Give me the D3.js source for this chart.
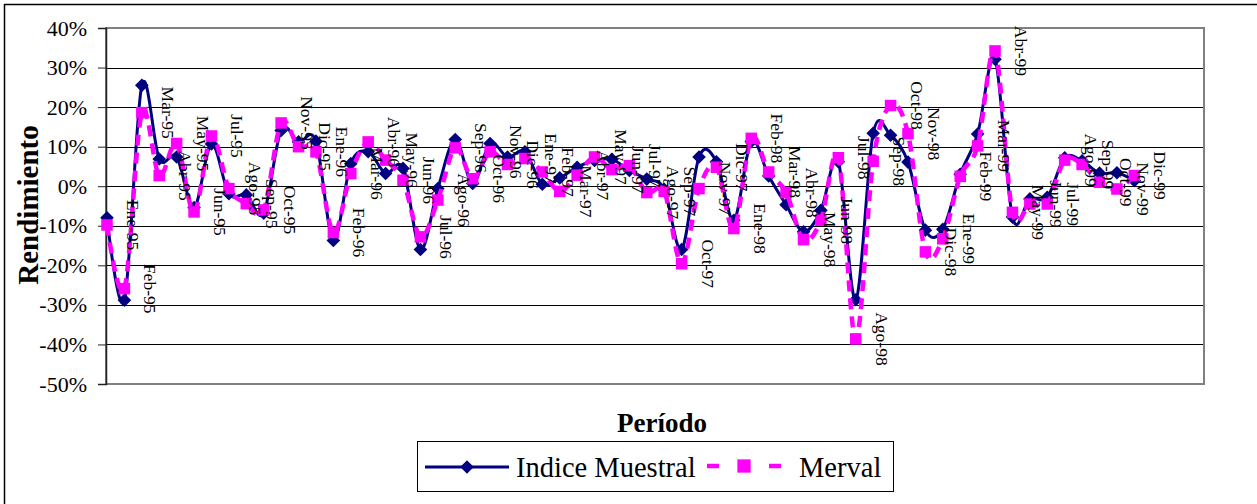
<!DOCTYPE html>
<html>
<head>
<meta charset="utf-8">
<script src="https://cdn.jsdelivr.net/npm/d3@7"></script>
<style>
  html, body { margin: 0; padding: 0; background: #fff; }
  svg { display: block; }
  svg text { font-family: "Liberation Serif", "Times New Roman", serif; }
</style>
</head>
<body>
<svg id="chart" width="1257" height="504"></svg>
<script>
// Monthly periods, Jan-1995 .. Dec-1999
const periods = [
  "Ene-95","Feb-95","Mar-95","Abr-95","May-95","Jun-95","Jul-95","Ago-95","Sep-95","Oct-95","Nov-95","Dic-95",
  "Ene-96","Feb-96","Mar-96","Abr-96","May-96","Jun-96","Jul-96","Ago-96","Sep-96","Oct-96","Nov-96","Dic-96",
  "Ene-97","Feb-97","Mar-97","Abr-97","May-97","Jun-97","Jul-97","Ago-97","Sep-97","Oct-97","Nov-97","Dic-97",
  "Ene-98","Feb-98","Mar-98","Abr-98","May-98","Jun-98","Jul-98","Ago-98","Sep-98","Oct-98","Nov-98","Dic-98",
  "Ene-99","Feb-99","Mar-99","Abr-99","May-99","Jun-99","Jul-99","Ago-99","Sep-99","Oct-99","Nov-99","Dic-99"
];

// Monthly return of the sample index (%)
const indiceMuestral = [
  -8.0, -28.8, 25.5, 6.9, 7.4, -5.4, 10.7, -1.9, -2.2, -6.8, 14.1, 11.2,
  11.4, -13.7, 5.7, 8.7, 3.2, 4.5, -16.0, -0.6, 11.8, 0.7, 10.8, 7.4,
  8.7, 0.5, 2.1, 4.8, 6.5, 6.8, 4.0, 1.8, -0.8, -16.0, 7.4, 6.2,
  -8.6, 11.3, 2.6, -4.7, -11.5, -6.1, 6.2, -28.7, 13.4, 12.9, 6.1, -11.1,
  -10.9, 3.0, 13.2, 32.1, -7.8, -3.2, -2.8, 7.2, 6.4, 3.3, 3.4, 1.4
];

// Monthly return of the Merval (%)
const merval = [
  -9.8, -25.9, 18.6, 2.7, 10.8, -6.5, 12.7, -0.6, -4.4, -6.0, 16.0, 10.0,
  8.7, -11.7, 3.2, 11.2, 6.6, 1.5, -12.8, -3.5, 9.7, 1.9, 8.7, 5.5,
  7.0, 3.6, -1.3, 2.8, 7.4, 4.2, 5.2, -1.6, -1.3, -19.6, -0.6, 4.8,
  -10.7, 12.1, 3.6, -1.6, -13.5, -8.6, 7.2, -38.6, 6.3, 20.4, 13.3, -16.6,
  -13.3, 2.5, 10.2, 34.2, -6.6, -4.5, -4.5, 6.6, 5.5, 1.0, -0.7, 2.7
];

// Value axis ticks (%)
const yTicks = [40, 30, 20, 10, 0, -10, -20, -30, -40, -50];

const seriesNames = ["Indice Muestral", "Merval"];

const NAVY = "#000080";
const PINK = "#FF00FF";
const SERIF = "'Liberation Serif', 'Times New Roman', serif";

const svg = d3.select("#chart");

// chart area frame
svg.append("rect")
  .attr("x", 4.5).attr("y", 4.5)
  .attr("width", 1300).attr("height", 600)
  .attr("fill", "#fff").attr("stroke", "#000").attr("stroke-width", 1.5);

const plot = { left: 106, right: 1204, top: 28, bottom: 384 };

const x = d3.scaleLinear().domain([0, 63]).range([107, plot.right]);
const y = d3.scaleLinear().domain([-50, 40]).range([plot.bottom, plot.top]);

// horizontal gridlines
svg.append("g")
  .selectAll("line")
  .data(yTicks.filter(t => t !== 40 && t !== -50))
  .join("line")
  .attr("x1", plot.left).attr("x2", plot.right)
  .attr("y1", d => Math.round(y(d)) + 0.5).attr("y2", d => Math.round(y(d)) + 0.5)
  .attr("stroke", "#000").attr("stroke-width", 1);

// plot area border
svg.append("rect")
  .attr("x", plot.left).attr("y", plot.top)
  .attr("width", plot.right - plot.left).attr("height", plot.bottom - plot.top)
  .attr("fill", "none").attr("stroke", "#808080").attr("stroke-width", 2);

// value axis
const yAxis = d3.axisLeft(y)
  .tickValues(yTicks)
  .tickFormat(d => d + "%")
  .tickSize(8)
  .tickPadding(11);

const yAxisG = svg.append("g")
  .attr("transform", `translate(${plot.left},0)`)
  .call(yAxis)
  .attr("font-family", SERIF)
  .attr("font-size", 22);
yAxisG.select(".domain").attr("stroke", "#222").attr("stroke-width", 1.5);
yAxisG.selectAll(".tick line").attr("stroke", "#222").attr("stroke-width", 1);
yAxisG.selectAll(".tick text").attr("fill", "#000");

// axis titles
svg.append("text")
  .attr("transform", "translate(28,205) rotate(-90)")
  .attr("text-anchor", "middle")
  .attr("dominant-baseline", "central")
  .style("font-weight", "bold")
  .style("font-size", "29px")
  .text("Rendimiento");

svg.append("text")
  .attr("x", 662).attr("y", 432)
  .attr("text-anchor", "middle")
  .style("font-weight", "bold")
  .style("font-size", "27px")
  .text("Período");

// series lines (smoothed)
const line = d3.line()
  .x((d, i) => x(i))
  .y(d => y(d))
  .curve(d3.curveCardinal.tension(0));

const diamond = d3.symbol().type(d3.symbolDiamond2).size(118);
const square = d3.symbol().type(d3.symbolSquare2).size(169);

// Indice Muestral
svg.append("path")
  .datum(indiceMuestral)
  .attr("d", line)
  .attr("fill", "none")
  .attr("stroke", NAVY)
  .attr("stroke-width", 3);

svg.append("g")
  .selectAll("path")
  .data(indiceMuestral)
  .join("path")
  .attr("transform", (d, i) => `translate(${x(i)},${y(d)})`)
  .attr("d", diamond)
  .attr("fill", NAVY);

// Merval
svg.append("path")
  .datum(merval)
  .attr("d", line)
  .attr("fill", "none")
  .attr("stroke", PINK)
  .attr("stroke-width", 4.5)
  .attr("stroke-dasharray", "11,7");

svg.append("g")
  .selectAll("path")
  .data(merval)
  .join("path")
  .attr("transform", (d, i) => `translate(${x(i)},${y(d)})`)
  .attr("d", square)
  .attr("fill", PINK);

// period labels on the Merval points
svg.append("g")
  .selectAll("text")
  .data(merval)
  .join("text")
  .attr("transform", (d, i) => `translate(${x(i) + 26},${y(d)}) rotate(90)`)
  .attr("text-anchor", "middle")
  .attr("dominant-baseline", "central")
  .style("font-size", "17.5px")
  .attr("fill", "#000")
  .text((d, i) => periods[i]);

// legend
const lg = svg.append("g");
lg.append("rect")
  .attr("x", 417.5).attr("y", 441.5)
  .attr("width", 476).attr("height", 50)
  .attr("fill", "#fff").attr("stroke", "#000").attr("stroke-width", 1);

lg.append("line")
  .attr("x1", 425).attr("x2", 509).attr("y1", 467).attr("y2", 467)
  .attr("stroke", NAVY).attr("stroke-width", 3);
lg.append("path")
  .attr("transform", "translate(467,467)")
  .attr("d", diamond).attr("fill", NAVY);
lg.append("text")
  .attr("x", 516).attr("y", 477)
  .style("font-size", "28.5px")
  .text(seriesNames[0]);

lg.append("line")
  .attr("x1", 707).attr("x2", 781).attr("y1", 466).attr("y2", 466)
  .attr("stroke", PINK).attr("stroke-width", 4.5)
  .attr("stroke-dasharray", "12,19");
lg.append("path")
  .attr("transform", "translate(744,466)")
  .attr("d", d3.symbol().type(d3.symbolSquare2).size(225)).attr("fill", PINK);
lg.append("text")
  .attr("x", 799).attr("y", 477)
  .style("font-size", "28.5px")
  .text(seriesNames[1]);
</script>
</body>
</html>
